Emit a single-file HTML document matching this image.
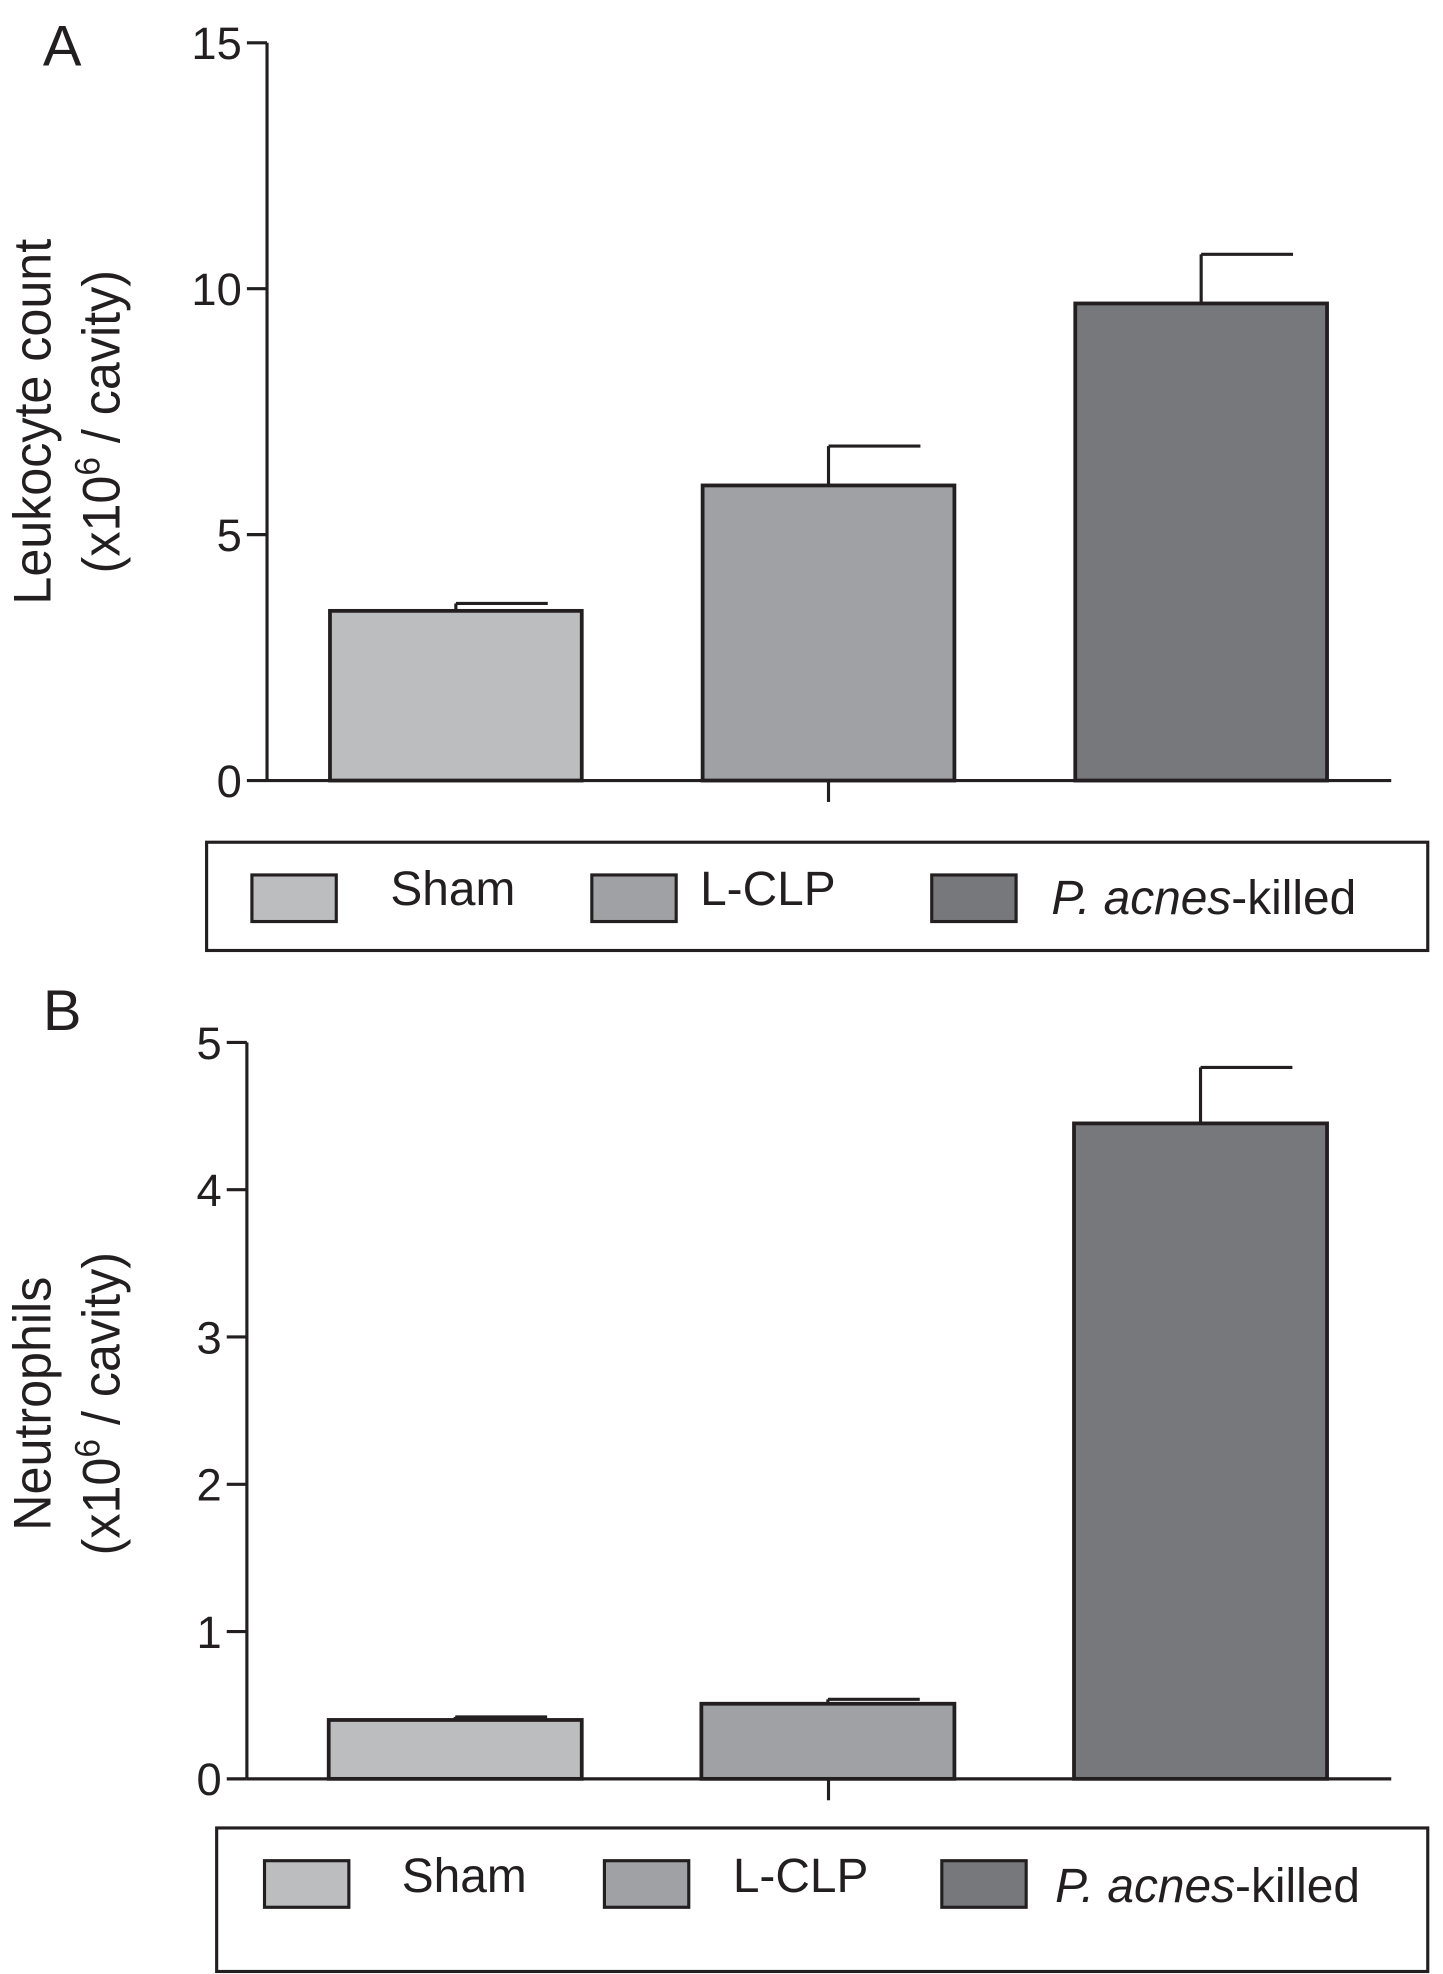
<!DOCTYPE html>
<html><head><meta charset="utf-8"><style>
html,body{margin:0;padding:0;background:#fff;}
svg{display:block;font-family:"Liberation Sans",Arial,sans-serif;}
</style></head><body>
<svg id="fig" width="1443" height="1974" viewBox="0 0 1146 1568" xmlns="http://www.w3.org/2000/svg"></svg>
<script>
const categories = ["Sham", "L-CLP", "P. acnes-killed"];
const leukocyteMeans = [3.45, 6.0, 9.7];
const leukocyteErr = [0.15, 0.8, 1.0];
const neutrophilMeans = [0.4, 0.51, 4.45];
const neutrophilErr = [0.02, 0.03, 0.38];
const ticksA = [0, 5, 10, 15];
const ticksB = [0, 1, 2, 3, 4, 5];
const colors = ["#bcbdbf", "#a0a1a4", "#77787b"];
const ink = "#231f20";
const NS = "http://www.w3.org/2000/svg";
const svg = document.getElementById('fig');
function mk(tag, attrs, parent, text) {
  const e = document.createElementNS(NS, tag);
  for (const k in attrs) e.setAttribute(k, attrs[k]);
  if (text !== undefined) e.textContent = text;
  (parent || svg).appendChild(e);
  return e;
}
function panel(cfg) {
  const g = mk('g', {});
  
  
  const y = v => cfg.y0 - (v - 0) / cfg.max * (cfg.y0 - cfg.yTop);
  const bandX = i => cfg.barStart + i * cfg.step;
  cfg.means.forEach((m, i) => {
    const x = bandX(i);
    const top = y(m), et = y(m + cfg.err[i]);
    const l = mk('line', {x1: x + cfg.barW / 2, x2: x + cfg.barW / 2, y1: top, y2: et, stroke: ink, 'stroke-width': 2.5}, g);
    
    
    const cap = mk('line', {x1: x + cfg.barW / 2, x2: x + cfg.barW / 2 + 73, y1: et, y2: et, stroke: ink, 'stroke-width': 2.5}, g);
    
    
    const r = mk('rect', {x: x, y: top, width: cfg.barW, height: cfg.y0 - top, fill: colors[i], stroke: ink, 'stroke-width': 3}, g);
    
    
  });
  const ya = mk('line', {x1: cfg.ax, x2: cfg.ax, y1: cfg.yTop, y2: cfg.y0, stroke: ink, 'stroke-width': 2.5}, g);
  
  
  const xa = mk('line', {x1: cfg.ax, x2: 1105, y1: cfg.y0, y2: cfg.y0, stroke: ink, 'stroke-width': 2.5}, g);
  
  
  const xt = mk('line', {x1: 658, x2: 658, y1: cfg.y0, y2: cfg.y0 + 17, stroke: ink, 'stroke-width': 2.5}, g);
  
  
  cfg.ticks.forEach(t => {
    const tl = mk('line', {x1: cfg.ax - 16, x2: cfg.ax, y1: y(t), y2: y(t), stroke: ink, 'stroke-width': 2.5}, g);
    
    
    const tx = mk('text', {x: cfg.ax - 20, y: y(t) + 13, 'font-size': 36, 'text-anchor': 'end', fill: ink}, g, String(t));
    
    
  });
  const pl = mk('text', {x: 34, y: cfg.letterY, 'font-size': 46, fill: ink}, g, cfg.letter);
  
  
  const tt = mk('text', {transform: `translate(40,${cfg.titleY}) rotate(-90) scale(0.95,1)`, 'font-size': 42, 'text-anchor': 'middle', fill: ink}, g, cfg.title);
  
  
  const t2 = mk('text', {transform: `translate(95,${cfg.titleY}) rotate(-90) scale(0.95,1)`, 'font-size': 42, 'text-anchor': 'middle', fill: ink}, g);
  
  
  mk('tspan', {}, t2, '(x10');
  mk('tspan', {dy: -16, 'font-size': 28}, t2, '6');
  mk('tspan', {dy: 16}, t2, ' / cavity)');
  const lg = mk('g', {}, g);
  
  
  const L = cfg.legend;
  mk('rect', {x: L.x, y: L.y, width: 1134 - L.x, height: L.h, fill: 'none', stroke: ink, 'stroke-width': 2.5}, lg);
  categories.forEach((c, i) => {
    const sx = L.sw[i];
    const s = mk('rect', {x: sx, y: L.y + 26, width: 67, height: 37, fill: colors[i], stroke: ink, 'stroke-width': 2.5}, lg);
    
    
    const t = mk('text', {x: L.tx[i], y: L.y + L.ty[i], 'font-size': 38, fill: ink}, lg);
    
    
    if (i === 2) {
      mk('tspan', {'font-style': 'italic'}, t, 'P. acnes');
      mk('tspan', {}, t, '-killed');
    } else t.textContent = c;
  });
}
panel({name: 'panel-a', letter: 'A', letterY: 52, means: leukocyteMeans, err: leukocyteErr, max: 15, ticks: ticksA,
  ax: 212, yTop: 34, y0: 620, barStart: 262, step: 296, barW: 200, title: 'Leukocyte count', titleY: 335,
  legend: {x: 164, y: 669, h: 86, sw: [200, 470, 740], tx: [310, 556, 835], ty: [50, 50, 57]}});
panel({name: 'panel-b', letter: 'B', letterY: 818, means: neutrophilMeans, err: neutrophilErr, max: 5, ticks: ticksB,
  ax: 196, yTop: 828, y0: 1413, barStart: 261, step: 296, barW: 201, title: 'Neutrophils', titleY: 1115,
  legend: {x: 172, y: 1452, h: 114, sw: [210, 480, 748], tx: [319, 582, 838], ty: [51, 51, 59]}});
</script>
</body></html>
